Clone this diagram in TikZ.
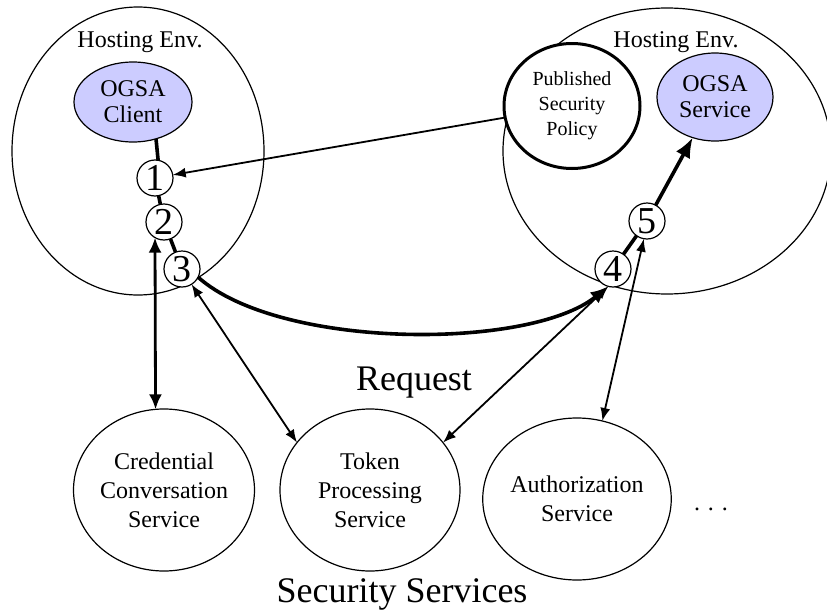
\documentclass[tikz,border=0pt]{standalone}
\usepackage{fontspec}
\setmainfont{Liberation Serif}
\usetikzlibrary{shapes.geometric,arrows.meta}
\definecolor{ogsafill}{RGB}{204,204,255}
\begin{document}
\begin{tikzpicture}[x=0.5pt,y=-0.5pt,
  env/.style={draw,ellipse,line width=0.6pt,inner sep=0pt,outer sep=0pt},
  lbl/.style={inner sep=0pt,font=\fontsize{12}{14}\selectfont},
  ogsa/.style={env,fill=ogsafill,align=center,font=\fontsize{12}{13}\selectfont},
  policybox/.style={env,fill=white,line width=1.5pt,align=center,minimum width=68pt,minimum height=62.5pt,font=\fontsize{10}{12.5}\selectfont},
  num/.style={circle,draw,fill=white,line width=0.6pt,minimum size=18pt,inner sep=0pt,outer sep=0pt,font=\fontsize{19}{19}\selectfont},
  svc/.style={env,minimum width=90pt,minimum height=81pt,align=center,font=\fontsize{12}{14.5}\selectfont},
  big/.style={inner sep=0pt,font=\fontsize{18}{20}\selectfont},
  thickline/.style={line width=1.8pt},
  arr/.style={line width=0.9pt},
  tip/.tip={Latex[length=6.5pt,width=5pt]},
  bigtip/.tip={Latex[length=9pt,width=7pt]}
]
\useasboundingbox (0,0) rectangle (827,611);
\clip (0,0) rectangle (827,611);
% hosting environments
\node[env,minimum width=126pt,minimum height=144pt] (hostL) at (138,151) {};
\node[env,minimum width=164pt,minimum height=143pt] (hostR) at (667,151) {};
\node[lbl,anchor=base] (hostLt) at (140,47) {Hosting Env.};
\node[lbl,anchor=base] (hostRt) at (676,47) {Hosting Env.};
% inner nodes
\node[ogsa,minimum width=59pt,minimum height=40pt] (client) at (133,102) {OGSA\\Client};
\node[ogsa,minimum width=58pt,minimum height=44pt] (service) at (715,97) {OGSA\\Service};
\node[policybox] (policy) at (572,106) {Published\\Security\\Policy};
% numbered steps
\node[num] (n1) at (155,178) {1};
\node[num] (n2) at (164,222) {2};
\node[num] (n3) at (182,269) {3};
\node[num] (n4) at (613,269) {4};
\node[num] (n5) at (647,221) {5};
% security services
\node[svc] (cred) at (164,490) {Credential\\Conversation\\Service};
\node[svc] (token) at (370,490) {Token\\Processing\\Service};
\node[svc] (auth) at (577,499) {Authorization\\Service};
\node[lbl,anchor=base] (dots) at (711,510) {. . .};
\node[big,anchor=base] (req) at (414,390) {Request};
\node[big,anchor=base] (secsvc) at (402,602) {Security Services};
% request path
\draw[thickline] (client.-58) -- (n1.80);
\draw[thickline] (n1) -- (n2);
\draw[thickline] (n2) -- (n3);
\draw[thickline,-bigtip] (n3.-27) .. controls (280,350) and (530,350) .. (n4.-105);
\draw[thickline] (n4) -- (n5);
\draw[thickline,-{Latex[length=10pt,width=8pt]}] (n5) -- (service);
% policy lookup
\draw[arr,-tip] (policy) -- (n1);
% service interactions
\draw[line width=1.4pt,{Latex[length=7.5pt,width=6.5pt]}-{Latex[length=7.5pt,width=6.5pt]}] (n2.240) -- (cred.96);
\draw[arr,tip-tip] (n3.-58) -- (token.147);
\draw[arr,tip-tip] (n4.-105) -- (token.33);
\draw[arr,tip-tip] (n5.-100) -- (auth.72);
\end{tikzpicture}
\end{document}
